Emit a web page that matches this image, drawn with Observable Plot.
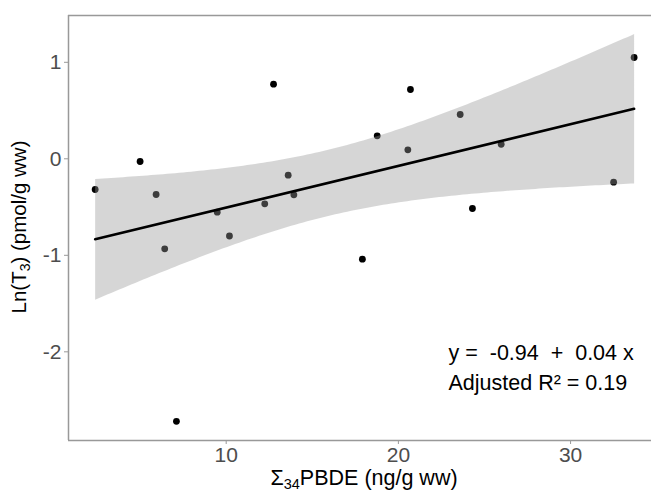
<!DOCTYPE html>
<html>
<head>
<meta charset="utf-8">
<script src="https://cdn.jsdelivr.net/npm/d3@7"></script>
<script src="https://cdn.jsdelivr.net/npm/@observablehq/plot@0.6"></script>
<style>
  html, body { margin: 0; padding: 0; background: #fff; }
  svg { font-family: "Liberation Sans", Arial, sans-serif; }
</style>
</head>
<body>
<div id="chart"></div>
<script>
// Σ34PBDE (ng/g ww)
const pbde = [2.39, 5.0, 5.93, 6.43, 7.11, 9.48, 10.19, 12.24, 12.75, 13.6,
              13.93, 17.91, 18.77, 20.55, 20.7, 23.59, 24.3, 25.97, 32.5, 33.69];
// Ln(T3) (pmol/g ww)
const lnT3 = [-0.318, -0.028, -0.37, -0.933, -2.72, -0.553, -0.80, -0.466, 0.773, -0.17,
              -0.373, -1.04, 0.238, 0.093, 0.718, 0.459, -0.515, 0.151, -0.242, 1.05];
const xTicks = [10, 20, 30];
const yTicks = [-2, -1, 0, 1];
const xDomain = [0.842, 34.70];
const yDomain = [-2.919, 1.485];
const eqLines = ["y =\u00a0\u00a0-0.94\u00a0\u00a0+\u00a0\u00a00.04 x", "Adjusted R² = 0.19"];

const data = pbde.map((x, i) => ({x, y: lnT3[i]}));
const fmt = d => String(d);

const chart = Plot.plot({
  width: 651,
  height: 492,
  marginLeft: 68,
  marginTop: 15,
  marginBottom: 52,
  marginRight: 0,
  style: {fontFamily: "Liberation Sans, Arial, sans-serif", background: "#fff"},
  x: {domain: xDomain, ticks: xTicks, tickSize: 4, label: null, tickFormat: fmt},
  y: {domain: yDomain, ticks: yTicks, tickSize: 4, label: null, tickFormat: fmt},
  marks: [
    Plot.dot(data, {x: "x", y: "y", r: 3.4, fill: "black", stroke: "none"}),
    Plot.linearRegressionY(data, {x: "x", y: "y", ci: 0.95, stroke: "black", strokeWidth: 2.6, fill: "#999999", fillOpacity: 0.4}),
    Plot.ruleY([yDomain[0], yDomain[1]], {stroke: "#999", strokeWidth: 1.5}),
    Plot.ruleX([xDomain[0]], {stroke: "#999", strokeWidth: 1.5}),
    Plot.axisX({ticks: xTicks, tickSize: 4, stroke: "#999", fill: "#4d4d4d", fontSize: 21, tickPadding: 3, label: null, tickFormat: fmt}),
    Plot.axisY({ticks: yTicks, tickSize: 4, stroke: "#999", fill: "#4d4d4d", fontSize: 21, tickPadding: 3, label: null, tickFormat: fmt}),
    Plot.text([eqLines[0]], {frameAnchor: "top-left", dx: 380, dy: 344, lineAnchor: "bottom", textAnchor: "start", fontSize: 21.5, fill: "black"}),
    Plot.text([eqLines[1]], {frameAnchor: "top-left", dx: 380, dy: 374, lineAnchor: "bottom", textAnchor: "start", fontSize: 21.5, fill: "black"})
  ]
});

const svg = d3.select(chart);
// x axis title with subscript
svg.append("text")
  .attr("x", 364).attr("y", 485)
  .attr("text-anchor", "middle")
  .attr("font-size", 21.5).attr("fill", "black")
  .call(t => {
    t.append("tspan").text("Σ");
    t.append("tspan").attr("font-size", 14.5).attr("dy", 3.5).text("34");
    t.append("tspan").attr("dy", -3.5).text("PBDE (ng/g ww)");
  });
// y axis title with subscript
svg.append("text")
  .attr("transform", "translate(26,227) rotate(-90)")
  .attr("text-anchor", "middle")
  .attr("font-size", 20.5).attr("fill", "black")
  .call(t => {
    t.append("tspan").text("Ln(T");
    t.append("tspan").attr("font-size", 14).attr("dy", 4).text("3");
    t.append("tspan").attr("dy", -4).text(") (pmol/g ww)");
  });

document.getElementById("chart").appendChild(chart);
</script>
</body>
</html>
